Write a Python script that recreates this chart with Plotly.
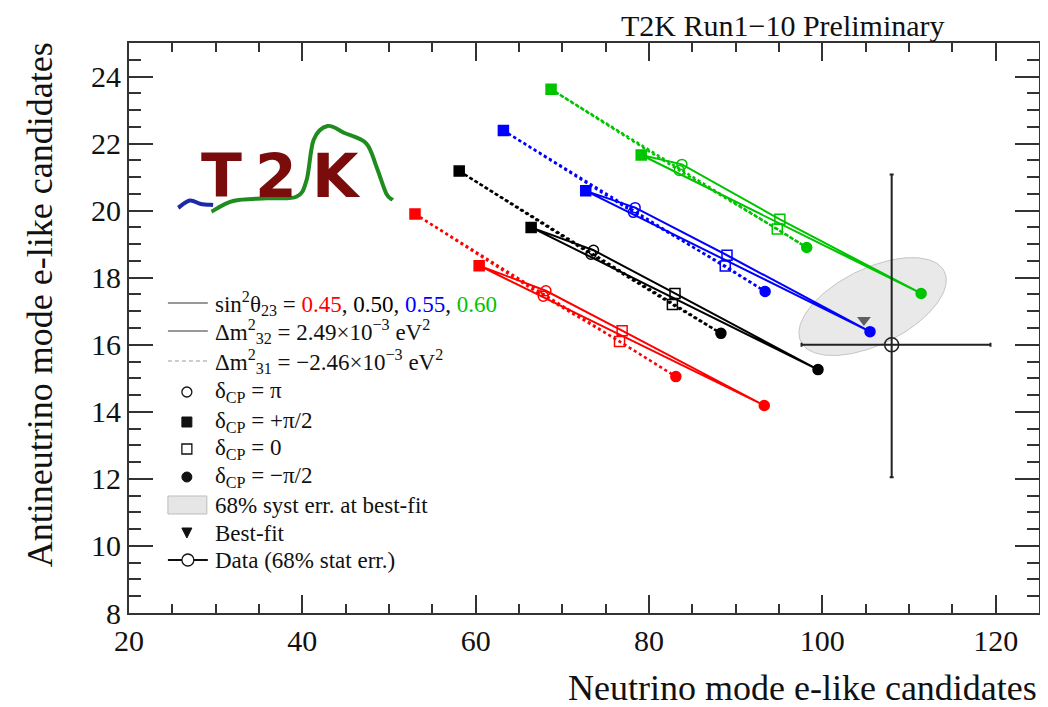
import numpy as np
import plotly.graph_objects as go

# ---------------- data ----------------
sin2_values = ["0.45", "0.50", "0.55", "0.60"]
series_colors = ["#ff0000", "#000000", "#0000ff", "#00c400"]
delta_labels = ["+π/2", "π", "−π/2", "0"]
delta_symbols = ["square", "circle-open", "circle", "square-open"]

# normal ordering (Δm²32 > 0), points for δ = +π/2, π, −π/2, 0
nh_x = [[60.4, 68.1, 93.3, 76.9],
        [66.4, 73.6, 99.5, 83.0],
        [72.7, 78.4, 105.5, 89.0],
        [79.1, 83.8, 111.4, 95.1]]
nh_y = [[18.36, 17.61, 14.19, 16.42],
        [19.50, 18.82, 15.26, 17.53],
        [20.59, 20.09, 16.39, 18.67],
        [21.66, 21.38, 17.53, 19.74]]
# inverted ordering (Δm²31 < 0)
ih_x = [[53.0, 67.8, 83.1, 76.6],
        [58.1, 73.3, 88.3, 82.7],
        [63.2, 78.2, 93.4, 88.8],
        [68.7, 83.5, 98.2, 94.8]]
ih_y = [[19.90, 17.45, 15.05, 16.10],
        [21.18, 18.70, 16.34, 17.20],
        [22.39, 19.95, 17.59, 18.35],
        [23.62, 21.20, 18.90, 19.45]]

bestfit_x = [104.8]
bestfit_y = [16.74]

data_x = [108]
data_y = [16]
data_x_err_minus = [10.4]
data_x_err_plus = [11.4]
data_y_err_minus = [3.95]
data_y_err_plus = [5.08]

# 68% systematic error ellipse at best fit (centre, semi-axis vectors)
syst_center = (105.8, 17.14)
syst_axis_a = (8.28, 1.045)
syst_axis_b = (1.92, -1.02)

x_range = [20, 125]
y_range = [8, 25]

# ---------------- geometry helpers (for legend / logo decorations) ----------------
W, H = 1048, 707
OFF = 8  # page body margin of the html page
PX0, PX1, PY0, PY1 = 129, 1041, 43, 613


def px(x):
    return (x - PX0) / (PX1 - PX0)


def py(y):
    return (PY1 - y) / (PY1 - PY0)


SERIF = "Liberation Serif, Times New Roman, serif"

fig = go.Figure()

# systematic ellipse
t = np.linspace(0, 2 * np.pi, 181)
ell_x = syst_center[0] + syst_axis_a[0] * np.cos(t) + syst_axis_b[0] * np.sin(t)
ell_y = syst_center[1] + syst_axis_a[1] * np.cos(t) + syst_axis_b[1] * np.sin(t)
fig.add_trace(go.Scatter(x=ell_x, y=ell_y, mode="lines", fill="toself",
                         fillcolor="#e9e9e9", line=dict(color="#c4c4c4", width=1),
                         hoverinfo="skip", showlegend=False))

loop_order = [0, 1, 3, 2, 0]
for i, c in enumerate(series_colors):
    # inverted ordering - dashed
    fig.add_trace(go.Scatter(x=[ih_x[i][k] for k in loop_order], y=[ih_y[i][k] for k in loop_order],
                             mode="lines", line=dict(color=c, width=2.5, dash="3px,3px"),
                             hoverinfo="skip", showlegend=False))
    # normal ordering - solid
    fig.add_trace(go.Scatter(x=[nh_x[i][k] for k in loop_order], y=[nh_y[i][k] for k in loop_order],
                             mode="lines", line=dict(color=c, width=2),
                             hoverinfo="skip", showlegend=False))

for i, c in enumerate(series_colors):
    for xs, ys in ((ih_x[i], ih_y[i]), (nh_x[i], nh_y[i])):
        fig.add_trace(go.Scatter(x=xs, y=ys, mode="markers",
                                 marker=dict(symbol=delta_symbols, size=10, color=c,
                                             line=dict(color=c, width=1.5)),
                                 text=delta_labels, showlegend=False))

# best fit
fig.add_trace(go.Scatter(x=bestfit_x, y=bestfit_y, mode="markers",
                         marker=dict(symbol="triangle-down", size=12, color="#5f5f5f"),
                         showlegend=False))
# data
fig.add_trace(go.Scatter(x=data_x, y=data_y, mode="markers",
                         marker=dict(symbol="circle-open", size=14, color="#222",
                                     line=dict(width=1.5, color="#222")),
                         error_x=dict(type="data", array=data_x_err_plus, arrayminus=data_x_err_minus,
                                      color="#222", thickness=2, width=2),
                         error_y=dict(type="data", array=data_y_err_plus, arrayminus=data_y_err_minus,
                                      color="#222", thickness=2, width=2),
                         showlegend=False))

shapes = []
annotations = []

# ---------------- custom legend ----------------
LX0, LX1, LXC, TX = 168, 208, 187, 213
leg_rows = [303, 331, 361, 392, 422, 449, 477, 505, 533, 560]
shapes.append(dict(type="line", xref="paper", yref="paper", x0=px(LX0), x1=px(LX1),
                   y0=py(leg_rows[0]), y1=py(leg_rows[0]), line=dict(color="#333", width=1.2)))
shapes.append(dict(type="line", xref="paper", yref="paper", x0=px(LX0), x1=px(LX1),
                   y0=py(leg_rows[1]), y1=py(leg_rows[1]), line=dict(color="#333", width=1.2)))
shapes.append(dict(type="line", xref="paper", yref="paper", x0=px(LX0), x1=px(LX1),
                   y0=py(leg_rows[2]), y1=py(leg_rows[2]), line=dict(color="#999", width=1.2, dash="4px,3px")))
r = 5
shapes.append(dict(type="circle", xref="paper", yref="paper", x0=px(LXC - r), x1=px(LXC + r),
                   y0=py(leg_rows[3] + r), y1=py(leg_rows[3] - r), line=dict(color="#111", width=1.3)))
shapes.append(dict(type="rect", xref="paper", yref="paper", x0=px(LXC - r), x1=px(LXC + r),
                   y0=py(leg_rows[4] + r), y1=py(leg_rows[4] - r), fillcolor="#111", line=dict(color="#111", width=1)))
shapes.append(dict(type="rect", xref="paper", yref="paper", x0=px(LXC - r), x1=px(LXC + r),
                   y0=py(leg_rows[5] + r), y1=py(leg_rows[5] - r), line=dict(color="#111", width=1.3)))
shapes.append(dict(type="circle", xref="paper", yref="paper", x0=px(LXC - r), x1=px(LXC + r),
                   y0=py(leg_rows[6] + r), y1=py(leg_rows[6] - r), fillcolor="#111", line=dict(color="#111", width=1)))
shapes.append(dict(type="rect", xref="paper", yref="paper", x0=px(168), x1=px(207),
                   y0=py(leg_rows[7] + 9), y1=py(leg_rows[7] - 9), fillcolor="#e6e6e6",
                   line=dict(color="#bdbdbd", width=1)))
ty = leg_rows[8]
shapes.append(dict(type="path", xref="paper", yref="paper",
                   path=f"M {px(LXC-5)} {py(ty-5)} L {px(LXC+5)} {py(ty-5)} L {px(LXC)} {py(ty+5)} Z",
                   fillcolor="#111", line=dict(color="#111", width=1)))
shapes.append(dict(type="line", xref="paper", yref="paper", x0=px(LX0), x1=px(LX1),
                   y0=py(leg_rows[9]), y1=py(leg_rows[9]), line=dict(color="#111", width=2)))
shapes.append(dict(type="circle", xref="paper", yref="paper", x0=px(188 - 6), x1=px(188 + 6),
                   y0=py(leg_rows[9] + 6), y1=py(leg_rows[9] - 6), fillcolor="white",
                   line=dict(color="#111", width=1.3)))

c0, c1, c2, c3 = series_colors
leg_texts = [
    f"sin<sup>2</sup>θ<sub>23</sub> = <span style='color:{c0}'>{sin2_values[0]}</span>, "
    f"<span style='color:{c1}'>{sin2_values[1]}</span>, <span style='color:{c2}'>{sin2_values[2]}</span>, "
    f"<span style='color:{c3}'>{sin2_values[3]}</span>",
    "Δm<sup>2</sup><sub>32</sub> = 2.49×10<sup>−3</sup> eV<sup>2</sup>",
    "Δm<sup>2</sup><sub>31</sub> = −2.46×10<sup>−3</sup> eV<sup>2</sup>",
    "δ<sub>CP</sub> = π",
    "δ<sub>CP</sub> = +π/2",
    "δ<sub>CP</sub> = 0",
    "δ<sub>CP</sub> = −π/2",
    "68% syst err. at best-fit",
    "Best-fit",
    "Data (68% stat err.)",
]
for txt, yy in zip(leg_texts, leg_rows):
    annotations.append(dict(text=txt, xref="paper", yref="paper", x=px(TX), y=py(yy),
                            xanchor="left", yanchor="middle", showarrow=False,
                            font=dict(family=SERIF, size=23, color="#111")))

# ---------------- T2K logo ----------------
for letter, cx in zip(["T", "2", "K"], [222, 276, 337]):
    annotations.append(dict(text=f"<b>{letter}</b>", xref="paper", yref="paper", x=px(cx), y=py(176),
                            xanchor="center", yanchor="middle", showarrow=False,
                            font=dict(family="DejaVu Sans", size=60, color="#7a0c0c")))


def smooth_path(points):
    pts = [(px(a), py(b)) for a, b in points]
    d = f"M {pts[0][0]:.5f} {pts[0][1]:.5f}"
    n = len(pts)
    for k in range(n - 1):
        p0 = pts[k - 1] if k > 0 else pts[k]
        p1 = pts[k]
        p2 = pts[k + 1]
        p3 = pts[k + 2] if k + 2 < n else pts[k + 1]
        c1x = p1[0] + (p2[0] - p0[0]) / 6
        c1y = p1[1] + (p2[1] - p0[1]) / 6
        c2x = p2[0] - (p3[0] - p1[0]) / 6
        c2y = p2[1] - (p3[1] - p1[1]) / 6
        d += f" C {c1x:.5f} {c1y:.5f} {c2x:.5f} {c2y:.5f} {p2[0]:.5f} {p2[1]:.5f}"
    return d


green_wave = [(211.7, 211.7), (233.3, 201), (266.7, 198.3), (296.7, 196.7), (307, 180),
              (314, 140), (328, 126), (345, 133), (366.7, 143.3), (377, 166.7),
              (386.7, 193.3), (393.3, 200)]
blue_wave = [(178.3, 207.7), (190, 200.5), (201, 204), (213.3, 205)]
shapes.append(dict(type="path", xref="paper", yref="paper", path=smooth_path(blue_wave),
                   line=dict(color="#1c2aa8", width=4)))
shapes.append(dict(type="path", xref="paper", yref="paper", path=smooth_path(green_wave),
                   line=dict(color="#1f8c1f", width=4)))

# ---------------- titles ----------------
annotations.append(dict(text="T2K Run1−10 Preliminary", xref="paper", yref="paper",
                        x=px(948), y=py(OFF + 0.5), xanchor="right", yanchor="top", showarrow=False,
                        borderpad=0, font=dict(family=SERIF, size=30, color="#111")))
annotations.append(dict(text="Neutrino mode e-like candidates", xref="paper", yref="paper",
                        x=px(1041), y=py(688), xanchor="right", yanchor="middle", showarrow=False,
                        font=dict(family=SERIF, size=36, color="#111")))
annotations.append(dict(text="Antineutrino mode e-like candidates", xref="paper", yref="paper",
                        x=px(40), y=py(305), xanchor="center", yanchor="middle", showarrow=False,
                        textangle=-90, font=dict(family=SERIF, size=36, color="#111")))

axis_common = dict(ticks="inside", mirror="allticks", showline=True, linecolor="#333",
                   linewidth=2, tickcolor="#333", tickwidth=1.5, showgrid=False, zeroline=False,
                   tickfont=dict(family=SERIF, size=30, color="#111"))
fig.update_xaxes(range=x_range, tickmode="linear", tick0=20, dtick=20, ticklen=18,
                 minor=dict(tick0=20, dtick=5, ticks="inside", ticklen=9, tickwidth=1.5,
                            tickcolor="#333", showgrid=False),
                 **axis_common)
fig.update_yaxes(range=y_range, tickmode="linear", tick0=8, dtick=2, ticklen=24,
                 minor=dict(tick0=8, dtick=0.5, ticks="inside", ticklen=12, tickwidth=1.5,
                            tickcolor="#333", showgrid=False),
                 **axis_common)

fig.update_layout(width=W - OFF, height=H - OFF,
                  margin=dict(l=PX0 - OFF, r=W - PX1, t=PY0 - OFF, b=H - PY1),
                  paper_bgcolor="white", plot_bgcolor="white", showlegend=False,
                  shapes=shapes, annotations=annotations)

fig.write_html("out.html")
